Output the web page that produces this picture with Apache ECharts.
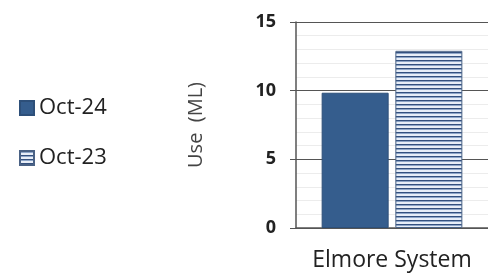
<!DOCTYPE html>
<html>
<head>
<meta charset="utf-8">
<script src="https://cdn.jsdelivr.net/npm/echarts@6/dist/echarts.min.js"></script>
<style>
  html, body { margin: 0; padding: 0; background: #fff; }
  #chart { width: 488px; height: 273px; }
</style>
</head>
<body>
<div id="chart"></div>
<script>
var categories = ['Elmore System'];
var seriesNames = ['Oct-24', 'Oct-23'];
var oct24 = [9.85];
var oct23 = [12.9];

// striped fill for the Oct-23 bars
function stripePattern() {
    var c = document.createElement('canvas');
    c.width = 4;
    c.height = 4;
    var ctx = c.getContext('2d');
    ctx.fillStyle = '#e8eef7';
    ctx.fillRect(0, 0, 4, 4);
    ctx.fillStyle = '#34507e';
    ctx.fillRect(0, 0, 4, 1);
    ctx.fillStyle = '#8ea6c8';
    ctx.fillRect(0, 1, 4, 1);
    return c;
}

var myChart = echarts.init(document.getElementById('chart'));

var option = {
    backgroundColor: '#fff',
    animation: false,
    legend: {
        orient: 'vertical',
        left: 14,
        top: 92,
        itemWidth: 14,
        itemHeight: 14,
        itemGap: 28,
        icon: 'rect',
        textStyle: {
            fontFamily: 'Open Sans',
            fontSize: 22,
            color: '#222'
        },
        data: seriesNames
    },
    grid: {
        left: 296,
        top: 22,
        right: -8,
        bottom: 45
    },
    xAxis: {
        type: 'category',
        data: categories,
        axisLine: { lineStyle: { color: '#555', width: 1.5 } },
        axisTick: { show: false },
        axisLabel: {
            margin: 21,
            fontFamily: 'Open Sans',
            fontSize: 23,
            color: '#222'
        }
    },
    yAxis: {
        type: 'value',
        min: 0,
        max: 15,
        interval: 5,
        name: 'Use  (ML)',
        nameLocation: 'middle',
        nameGap: 90,
        nameRotate: 90,
        nameTextStyle: {
            fontFamily: 'Open Sans',
            fontSize: 20,
            color: '#444'
        },
        axisLine: { show: true, lineStyle: { color: '#555', width: 1.5 } },
        axisTick: { show: true, length: 6, lineStyle: { color: '#555' } },
        axisLabel: {
            margin: 20,
            fontFamily: 'Open Sans',
            fontWeight: 'bold',
            fontSize: 18,
            color: '#222'
        },
        splitLine: { lineStyle: { color: '#555', width: 1.2 } },
        minorTick: { show: false, splitNumber: 5 },
        minorSplitLine: { show: true, lineStyle: { color: '#ececec' } }
    },
    series: [
        {
            name: seriesNames[0],
            type: 'bar',
            data: oct24,
            barWidth: 67,
            barGap: '10%',
            itemStyle: {
                color: '#355d8d',
                borderColor: '#2d4f79',
                borderWidth: 1
            }
        },
        {
            name: seriesNames[1],
            type: 'bar',
            data: oct23,
            barWidth: 67,
            itemStyle: {
                color: { image: stripePattern(), repeat: 'repeat' },
                borderColor: '#4a6285',
                borderWidth: 1
            }
        }
    ]
};

myChart.setOption(option);
</script>
</body>
</html>
